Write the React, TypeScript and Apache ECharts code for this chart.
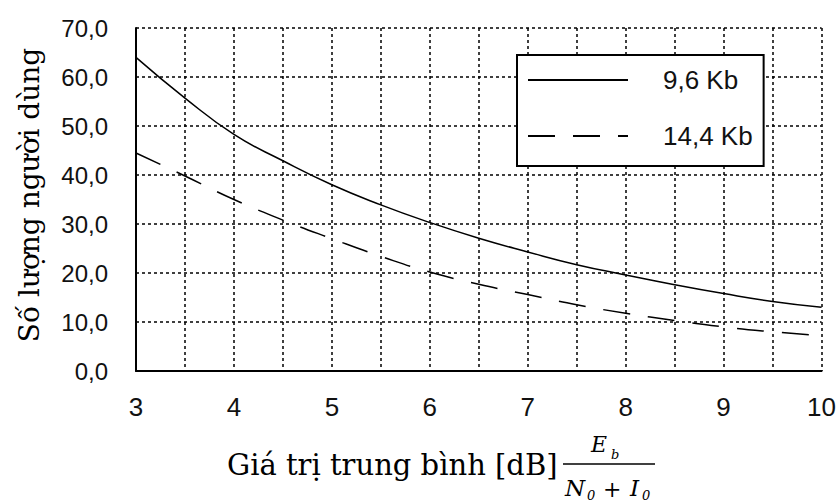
import React, { useEffect, useRef } from "react";
import * as echarts from "echarts";

const xValues = [3, 3.5, 4, 4.5, 5, 5.5, 6, 6.5, 7, 7.5, 8, 8.5, 9, 9.5, 10];
const users96 = [64.0, 55.7, 48.3, 42.9, 38.0, 33.9, 30.3, 27.1, 24.3, 21.7, 19.6, 17.6, 15.8, 14.2, 13.0];
const users144 = [44.5, 39.8, 35.0, 30.8, 27.0, 23.4, 20.2, 17.7, 15.6, 13.5, 11.8, 10.3, 9.0, 8.0, 7.2];
const seriesNames = ["9,6 Kb", "14,4 Kb"];
const yAxisTitle = "Số lượng người dùng";
const xAxisTitle = "Giá trị trung bình [dB]";

export default function App() {
  const ref = useRef<HTMLDivElement>(null);
  useEffect(() => {
    document.body.style.margin = "0";
    const chart = echarts.init(ref.current!, null, { renderer: "svg" });
    const pairs = (ys: number[]) => xValues.map((x, i) => [x, ys[i]]);
    const dvs = "'DejaVu Serif', serif";
    const t = (text: string, x: number, y: number, font: string) => ({
      type: "text",
      x,
      y,
      style: { text, fill: "#000", font, align: "left", verticalAlign: "middle" },
    });
    chart.setOption({
      animation: false,
      backgroundColor: "#fff",
      grid: { left: 136, right: 13, top: 28, bottom: 133 },
      xAxis: {
        type: "value",
        min: 3,
        max: 10,
        interval: 0.5,
        axisLine: { show: true, onZero: false, lineStyle: { color: "#000", width: 2 } },
        axisTick: { show: false },
        axisLabel: {
          margin: 23,
          fontFamily: "'Liberation Sans Narrow', 'Liberation Sans', Arial, sans-serif",
          fontSize: 26,
          color: "#111",
          formatter: (v: number) => (Number.isInteger(v) ? String(v) : ""),
        },
        splitLine: { show: true, lineStyle: { color: "#000", width: 1.5, type: [3, 3] } },
      },
      yAxis: {
        type: "value",
        min: 0,
        max: 70,
        interval: 10,
        axisLine: { show: true, lineStyle: { color: "#000", width: 2 } },
        axisTick: { show: false },
        axisLabel: {
          margin: 28,
          fontFamily: "'Liberation Sans', Arial, sans-serif",
          fontSize: 24,
          color: "#111",
          formatter: (v: number) => v.toFixed(1).replace(".", ","),
        },
        splitLine: { show: true, lineStyle: { color: "#000", width: 1.5, type: [3, 3] } },
      },
      legend: {
        orient: "vertical",
        left: 517,
        top: 55,
        itemWidth: 100,
        itemHeight: 20,
        itemGap: 30,
        padding: [12, 11, 17, 10],
        borderColor: "#000",
        borderWidth: 2,
        backgroundColor: "#fff",
        selectedMode: false,
        itemStyle: { opacity: 0 },
        textStyle: {
          fontFamily: "'Liberation Sans', Arial, sans-serif",
          fontSize: 26,
          color: "#111",
          padding: [0, 0, 0, 30],
        },
        data: seriesNames,
      },
      series: [
        {
          name: seriesNames[0],
          type: "line",
          smooth: true,
          symbol: "none",
          data: pairs(users96),
          lineStyle: { color: "#000", width: 1.5, type: "solid" },
          itemStyle: { color: "#000" },
        },
        {
          name: seriesNames[1],
          type: "line",
          smooth: true,
          symbol: "none",
          data: pairs(users144),
          lineStyle: { color: "#000", width: 1.5, type: [27, 18] },
          itemStyle: { color: "#000" },
        },
      ],
      graphic: [
        {
          type: "text",
          x: 29,
          y: 195,
          rotation: Math.PI / 2,
          style: {
            text: yAxisTitle,
            fill: "#000",
            font: `28px ${dvs}`,
            align: "center",
            verticalAlign: "middle",
          },
        },
        t(xAxisTitle, 227, 465, `29px ${dvs}`),
        t("E", 591, 444, `italic 22px ${dvs}`),
        t("b", 611, 454, `italic 13px ${dvs}`),
        {
          type: "line",
          shape: { x1: 563, y1: 464, x2: 655, y2: 464 },
          style: { stroke: "#000", lineWidth: 1.5 },
        },
        t("N", 565, 488, `italic 23px ${dvs}`),
        t("0", 587, 495, `italic 13px ${dvs}`),
        t("+", 603, 489, `22px ${dvs}`),
        t("I", 630, 488, `italic 23px ${dvs}`),
        t("0", 642, 495, `italic 13px ${dvs}`),
      ],
    });
    return () => chart.dispose();
  }, []);
  return <div ref={ref} style={{ width: 839, height: 504 }} />;
}
